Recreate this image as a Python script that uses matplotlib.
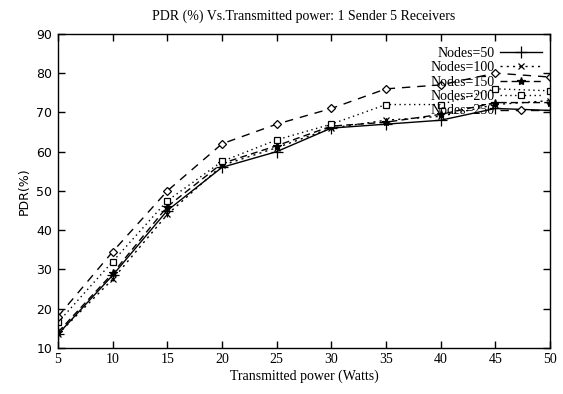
import numpy as np
import matplotlib
matplotlib.use("Agg")
import matplotlib.pyplot as plt

# transmitted power (Watts)
power = [5, 10, 15, 20, 25, 30, 35, 40, 45, 50]

# PDR (%) per node count
pdr_50 = [13.5, 28.5, 45, 56, 60, 66, 67, 68, 71, 70.5]
pdr_100 = [13.5, 27.5, 44, 56.5, 61, 66, 68, 69, 72, 73]
pdr_150 = [14, 29, 46, 57, 61.5, 66.5, 67.5, 69.5, 72.5, 72.5]
pdr_200 = [16.5, 32, 47.5, 57.5, 63, 67, 72, 72, 76, 75.5]
pdr_250 = [18, 34.5, 50, 62, 67, 71, 76, 77, 80, 79]

labels = ["Nodes=50", "Nodes=100", "Nodes=150", "Nodes=200", "Nodes=250"]

serif = "Liberation Serif"
sans = "DejaVu Sans"

fig = plt.figure(figsize=(5.63, 3.94), dpi=100)
ax = fig.add_axes([0.103, 0.117, 0.874, 0.797])

styles = [
    dict(ls="-", marker="+", ms=8),
    dict(ls=(0, (1.5, 3)), marker="x", ms=5),
    dict(ls=(0, (5, 3)), marker="*", ms=6),
    dict(ls=(0, (1, 2.5)), marker="s", ms=5, mfc="white"),
    dict(ls=(0, (6, 5)), marker="D", ms=4, mfc="white"),
]
series = [pdr_50, pdr_100, pdr_150, pdr_200, pdr_250]
for vals, lab, st in zip(series, labels, styles):
    ax.plot(power, vals, color="black", lw=1, mec="black", mew=0.9, label=lab, **st)

ax.set_xlim(5, 50)
ax.set_ylim(10, 90)
ax.set_xticks(power)
ax.set_yticks(np.arange(10, 91, 10))
ax.tick_params(direction="in", top=True, right=True, length=5, width=1, pad=4)
for lbl in ax.get_xticklabels():
    lbl.set_fontfamily(serif)
    lbl.set_fontsize(10)
for lbl in ax.get_yticklabels():
    lbl.set_fontfamily(sans)
    lbl.set_fontsize(9)
for sp in ax.spines.values():
    sp.set_linewidth(1)

ax.set_title("PDR (%) Vs.Transmitted power: 1 Sender 5 Receivers",
             fontfamily=serif, fontsize=10, pad=10)
ax.set_xlabel("Transmitted power (Watts)", fontfamily=serif, fontsize=10, labelpad=2)
ax.set_ylabel("PDR(%)", fontfamily=sans, fontsize=9, labelpad=4)

leg = ax.legend(loc="upper right", bbox_to_anchor=(1.0, 0.985), frameon=False,
                markerfirst=False, numpoints=1, handlelength=3.0, handletextpad=0.4,
                labelspacing=0.1, borderaxespad=0.2,
                prop={"family": serif, "size": 10})

fig.savefig("out.png", dpi=100)
